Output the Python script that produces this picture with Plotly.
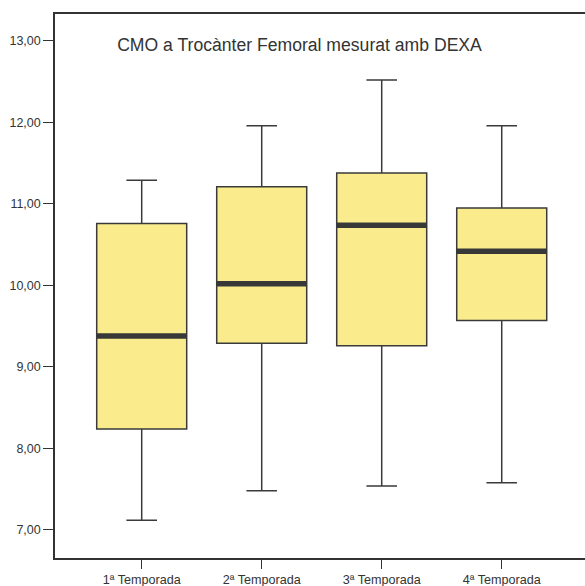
import plotly.graph_objects as go

categories = ["1ª Temporada", "2ª Temporada", "3ª Temporada", "4ª Temporada"]
lower_whisker = [7.12, 7.48, 7.54, 7.58]
q1_values = [8.24, 9.29, 9.26, 9.57]
median_values = [9.38, 10.02, 10.74, 10.42]
q3_values = [10.76, 11.21, 11.38, 10.95]
upper_whisker = [11.29, 11.96, 12.52, 11.96]
y_ticks = [7, 8, 9, 10, 11, 12, 13]
title_text = "CMO a Trocànter Femoral mesurat amb DEXA"

fig = go.Figure()
fig.add_trace(go.Box(
    x=categories, q1=q1_values, median=median_values, q3=q3_values,
    lowerfence=lower_whisker, upperfence=upper_whisker,
    fillcolor="#FAEC8C", line=dict(color="#3a3a3a", width=1.5),
    width=0.75, whiskerwidth=0.34, boxpoints=False, hoverinfo="skip",
    showlegend=False,
))
# thick median bars
fig.add_trace(go.Box(
    x=categories, q1=median_values, median=median_values, q3=median_values,
    lowerfence=median_values, upperfence=median_values,
    fillcolor="rgba(0,0,0,0)", line=dict(color="#383838", width=5.5),
    width=0.75, whiskerwidth=0, boxpoints=False, hoverinfo="skip",
    showlegend=False,
))

fig.update_layout(
    width=585, height=586,
    margin=dict(l=55, r=0, t=14, b=28),
    paper_bgcolor="white", plot_bgcolor="white",
    separators=",.",
    boxmode="overlay",
    font=dict(family="Liberation Sans, Arial, sans-serif", color="#333333"),
    title=dict(text=title_text, x=299.5 / 585, xref="container", xanchor="center",
               y=1 - 45 / 586, yref="container", yanchor="middle",
               font=dict(size=17.6, color="#333333")),
)
fig.update_xaxes(
    type="category", range=[-0.7225, 3.694], automargin=False,
    showline=True, linecolor="#333333", linewidth=1.5, mirror=True,
    ticks="outside", ticklen=9, tickcolor="#333333", tickwidth=1,
    tickfont=dict(size=12.6, color="#333333"), showgrid=False, zeroline=False,
)
fig.update_yaxes(
    range=[6.656, 13.331], tickvals=y_ticks, tickformat=".2f", automargin=False,
    showline=True, linecolor="#333333", linewidth=1.5, mirror=False,
    ticks="outside", ticklen=10, tickcolor="#333333", tickwidth=1,
    tickfont=dict(size=12.5, color="#333333"), showgrid=False, zeroline=False,
)

fig.write_html("out.html")
